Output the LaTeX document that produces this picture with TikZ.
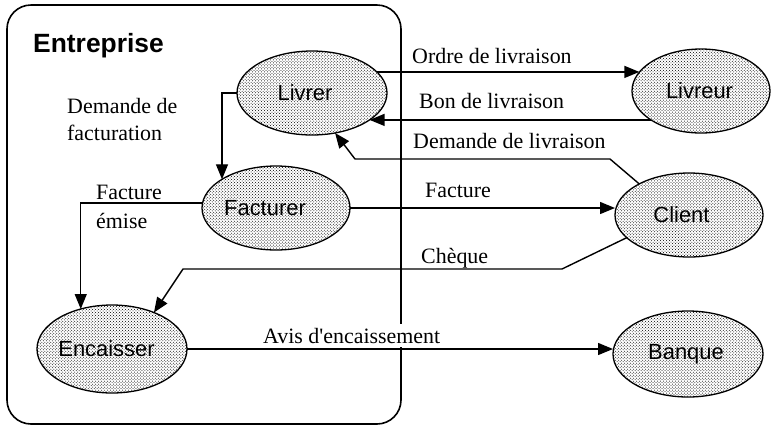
\documentclass[tikz,border=0pt]{standalone}
\usepackage{fontspec}
\setmainfont{Liberation Serif}[Ligatures=TeXOff]
\newfontfamily\arialf{Liberation Sans}
\usetikzlibrary{arrows.meta,patterns,shapes.geometric}
\begin{document}
\begin{tikzpicture}[x=1bp,y=-1bp,
 proc/.style={ellipse, draw, line width=1.3bp, pattern=crosshatch dots, inner sep=0pt, outer sep=0pt,
   font=\arialf\fontsize{22}{26}\selectfont},
 arr/.style={line width=1.4bp, -{Triangle[length=15bp,width=12bp]}},
 lbl/.style={font=\fontsize{22}{27}\selectfont, inner sep=0pt, anchor=base west},
 title/.style={font=\arialf\bfseries\fontsize{26.5}{30}\selectfont, inner sep=0pt, anchor=base west},
 boxframe/.style={line width=1.6bp, rounded corners=24bp},
]
\useasboundingbox (0,0) rectangle (775,426);
\draw[boxframe] (7,5) rectangle (401,424);
\node[title] (tent) at (33,52) {Entreprise};

\node[proc, minimum width=150bp, minimum height=84bp] (livrer) at (312,93) {\kern-14bp Livrer};
\node[proc, minimum width=138bp, minimum height=84bp] (livreur) at (701,91) {\kern-3bp Livreur};
\node[proc, minimum width=148bp, minimum height=84bp] (facturer) at (276,208) {\kern-22bp Facturer};
\node[proc, minimum width=148bp, minimum height=84bp] (client) at (689,215) {\kern-15bp Client};
\node[proc, minimum width=150bp, minimum height=88bp] (encaisser) at (112,349) {\kern-11bp Encaisser};
\node[proc, minimum width=150bp, minimum height=86bp] (banque) at (688,354) {\kern-4bp Banque};

\node[lbl] (lordre) at (412,63) {Ordre de livraison};
\node[lbl] (lbon) at (419,108) {Bon de livraison};
\node[lbl] (ldliv) at (413,148) {Demande de livraison};
\node[lbl] (lfact) at (425,197) {Facture};
\node[lbl] (lcheq) at (421,263) {Chèque};
\node[lbl] (ldfacta) at (67,113) {Demande de};
\node[lbl] (ldfactb) at (67,140) {facturation};
\node[lbl] (lfema) at (96,199) {Facture};
\node[lbl] (lfemb) at (96,228) {émise};
\node[lbl, fill=white, inner xsep=3bp, inner ysep=4bp] (lavis) at (260,343) {Avis d'encaissement};

\draw[arr] (livrer.18) -- (livrer.18 -| livreur.163);
\draw[arr] (livreur.210) -- (livreur.210 -| livrer.335);
\draw[arr] (client.148) -- (610,159) -- (355,159) -- (livrer.300);
\draw[arr] (livrer.west) -| (facturer.152);
\draw[arr] (facturer.east) -- (facturer.east -| client.west);
\draw[arr] (facturer.176) -| (encaisser.128);
\draw[arr] (client.200) -- (562,269) -- (183,269) -- (encaisser.41);
\draw[arr] (encaisser.east) -- (encaisser.east -| banque.west);
\end{tikzpicture}
\end{document}
